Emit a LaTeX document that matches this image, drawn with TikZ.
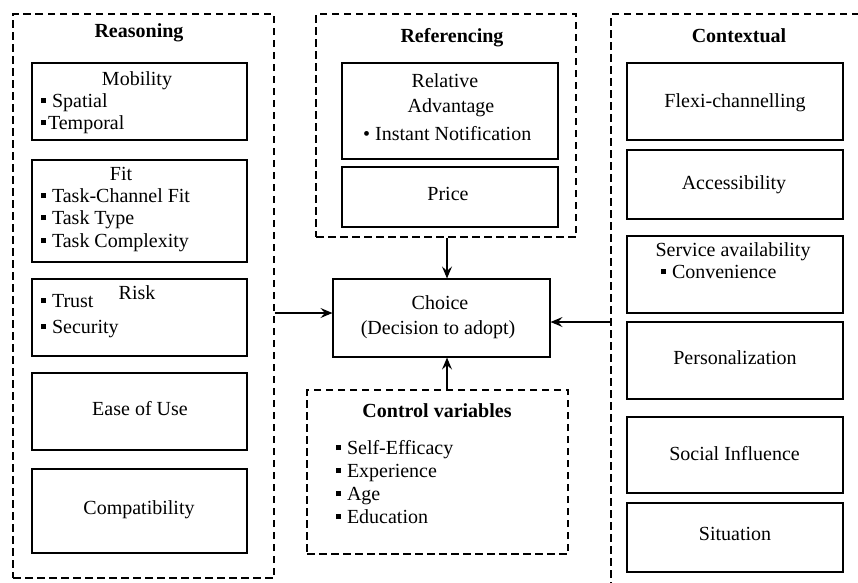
\documentclass[tikz,border=0pt]{standalone}
\usepackage{fontspec}
\setmainfont{Liberation Serif}
\usetikzlibrary{arrows.meta}
\newcommand\sqb{\raisebox{0.22em}{\rule{0.24em}{0.24em}}}
\newcommand\sqs{\hspace{0.3em}}
\tikzset{
  bx/.style={draw, line width=1.1pt, inner sep=0pt, minimum width=216pt},
  grp/.style={draw, line width=1.3pt, dash pattern=on 7.5pt off 4.5pt, inner sep=0pt},
  txt/.style={inner sep=0pt, text height=0.7em, text depth=0.22em, font=\fontsize{20}{23}\selectfont},
  ttl/.style={txt, font=\fontsize{20}{23}\selectfont\bfseries},
  lt/.style={txt, anchor=west},
  arr/.style={line width=1.1pt, -{Stealth[length=12pt,width=10pt,inset=4.5pt]}}
}
\begin{document}
\begin{tikzpicture}[x=1pt,y=-1pt]
\useasboundingbox (0,0) rectangle (858,582);
\clip (0,0) rectangle (858,582);
\fill[white] (0,0) rectangle (858,582);
% groups
\node[grp, minimum width=261pt, minimum height=564pt] (reason) at (143.5,296) {};
\node[grp, minimum width=260pt, minimum height=223pt] (ref) at (446,125.5) {};
\node[grp, minimum width=261pt, minimum height=164pt] (ctrl) at (437.5,472) {};
\node[grp, minimum width=269pt, minimum height=586pt] (ctx) at (745.5,307) {};
% titles
\node[ttl] (tReason) at (139,35) {Reasoning};
\node[ttl] (tRef) at (452,40) {Referencing};
\node[ttl] (tCtrl) at (437,415) {Control variables};
\node[ttl] (tCtx) at (739,40) {Contextual};
% Reasoning boxes
\node[bx, minimum width=215pt, minimum height=77pt] (mob) at (139.5,101.5) {};
\node[txt] (mobT) at (137,83) {Mobility};
\node[lt] (mob1) at (41,105) {\sqb\sqs Spatial};
\node[lt] (mob2) at (41,127) {\sqb\hspace{0.1em}Temporal};
\node[bx, minimum width=215pt, minimum height=102pt] (fit) at (139.5,211) {};
\node[txt] (fitT) at (121,178) {Fit};
\node[lt] (fit1) at (41,200) {\sqb\sqs Task-Channel Fit};
\node[lt] (fit2) at (41,222) {\sqb\sqs Task Type};
\node[lt] (fit3) at (41,245) {\sqb\sqs Task Complexity};
\node[bx, minimum width=215pt, minimum height=77pt] (risk) at (139.5,317.5) {};
\node[txt] (riskT) at (137,297) {Risk};
\node[lt] (risk1) at (41,305) {\sqb\sqs Trust};
\node[lt] (risk2) at (41,331) {\sqb\sqs Security};
\node[bx, minimum width=215pt, minimum height=77pt] (ease) at (139.5,411.5) {};
\node[txt] (easeT) at (140,413) {Ease of Use};
\node[bx, minimum width=215pt, minimum height=84pt] (comp) at (139.5,511) {};
\node[txt] (compT) at (139,512) {Compatibility};
% Referencing boxes
\node[bx, minimum height=96pt] (rel) at (450,111) {};
\node[txt] (relT1) at (445,85) {Relative};
\node[txt] (relT2) at (451,110) {Advantage};
\node[lt] (rel1) at (363,138) {\textbullet\ Instant Notification};
\node[bx, minimum height=60pt] (price) at (450,197) {};
\node[txt] (priceT) at (448,198) {Price};
% Choice
\node[bx, minimum width=217pt, minimum height=78pt] (choice) at (441.5,318) {};
\node[txt] (choiceT1) at (440,307) {Choice};
\node[txt] (choiceT2) at (438,332) {(Decision to adopt)};
% Control variables
\node[lt] (c1) at (336,452) {\sqb\sqs Self-Efficacy};
\node[lt] (c2) at (336,475) {\sqb\sqs Experience};
\node[lt] (c3) at (336,498) {\sqb\sqs Age};
\node[lt] (c4) at (336,521) {\sqb\sqs Education};
% Contextual boxes
\node[bx, minimum height=77pt] (flexi) at (735,101.5) {};
\node[txt] (flexiT) at (735,105) {Flexi-channelling};
\node[bx, minimum height=69pt] (acc) at (735,184.5) {};
\node[txt] (accT) at (734,187) {Accessibility};
\node[bx, minimum height=77pt] (serv) at (735,274.5) {};
\node[txt] (servT) at (733,254) {Service availability};
\node[lt] (serv1) at (661,276) {\sqb\sqs Convenience};
\node[bx, minimum height=77pt] (pers) at (735,360.5) {};
\node[txt] (persT) at (735,362) {Personalization};
\node[bx, minimum height=76pt] (soc) at (735,455) {};
\node[txt] (socT) at (734.5,458) {Social Influence};
\node[bx, minimum height=69pt] (sit) at (735,537.5) {};
\node[txt] (sitT) at (735,538) {Situation};
% connectors
\coordinate (ax) at (447,0);
\coordinate (rsout) at (reason.east |- 0,313);
\coordinate (ctxout) at (ctx.west |- 0,322);
\draw[arr] (rsout) -- (choice.west |- rsout);
\draw[arr] (ctxout) -- (choice.east |- ctxout);
\draw[arr] (ref.south -| ax) -- (choice.north -| ax);
\draw[arr] (ctrl.north -| ax) -- (choice.south -| ax);
\end{tikzpicture}
\end{document}
